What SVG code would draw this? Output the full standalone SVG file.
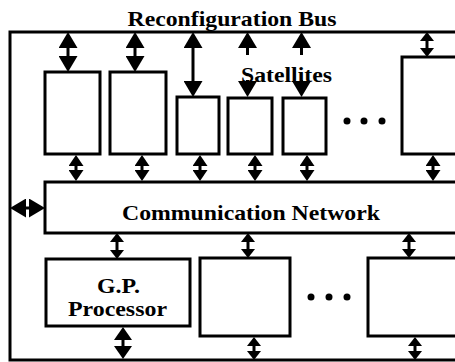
<svg xmlns="http://www.w3.org/2000/svg" width="455" height="362" viewBox="0 0 455 362">
<style>
.box{fill:#fff;stroke:#000;stroke-width:3}
.frame{fill:none;stroke:#000;stroke-width:3}
.c{stroke:#000;stroke-width:3;fill:none}
.big{marker-end:url(#ab);marker-start:url(#ab)}
.md{marker-end:url(#am);marker-start:url(#am)}
.sm{marker-end:url(#as);marker-start:url(#as)}
.xs{marker-end:url(#ax);marker-start:url(#ax)}
.t{font-family:"Liberation Serif","Times New Roman",serif;font-weight:bold;font-size:22px;fill:#000}
.dot{fill:#000}
</style>
<defs>
<marker id="ab" viewBox="0 0 16 19" refX="10" refY="9.5" markerWidth="16" markerHeight="19" markerUnits="userSpaceOnUse" orient="auto-start-reverse"><path d="M0,0 L16,9.5 L0,19 z" fill="#000"/></marker>
<marker id="am" viewBox="0 0 13 18" refX="9" refY="9" markerWidth="13" markerHeight="18" markerUnits="userSpaceOnUse" orient="auto-start-reverse"><path d="M0,0 L13,9 L0,18 z" fill="#000"/></marker>
<marker id="as" viewBox="0 0 11 15" refX="7" refY="7.5" markerWidth="11" markerHeight="15" markerUnits="userSpaceOnUse" orient="auto-start-reverse"><path d="M0,0 L11,7.5 L0,15 z" fill="#000"/></marker>
<marker id="ax" viewBox="0 0 9 14" refX="6" refY="7" markerWidth="9" markerHeight="14" markerUnits="userSpaceOnUse" orient="auto-start-reverse"><path d="M0,0 L9,7 L0,14 z" fill="#000"/></marker>
<marker id="aone" viewBox="0 0 16 19" refX="10" refY="9.5" markerWidth="16" markerHeight="19" markerUnits="userSpaceOnUse" orient="auto"><path d="M0,0 L16,9.5 L0,19 z" fill="#000"/></marker>
</defs>
<rect width="455" height="362" fill="#fff"/>
<g id="frame">
<path class="frame" d="M460,32 L10,32 L10,360 L460,360"/>
<text class="t" x="232" y="26" text-anchor="middle" textLength="209" lengthAdjust="spacingAndGlyphs">Reconfiguration Bus</text>
</g>
<g id="sat1"><rect class="box" x="45" y="72" width="55" height="82"/></g>
<g id="sat2"><rect class="box" x="110" y="72" width="56" height="82"/></g>
<g id="sat3"><rect class="box" x="177" y="97" width="42" height="57"/></g>
<g id="sat4"><rect class="box" x="228" y="98" width="44" height="56"/></g>
<g id="sat5"><rect class="box" x="283" y="98" width="43" height="56"/></g>
<g id="sat6"><rect class="box" x="402" y="57" width="60" height="97"/></g>
<g id="satdots"><circle class="dot" cx="347" cy="121" r="3.5"/><circle class="dot" cx="364" cy="121" r="3.5"/><circle class="dot" cx="382" cy="121" r="3.5"/></g>
<g id="comm"><rect class="box" x="45" y="182" width="417" height="51"/>
<text class="t" x="251" y="220" text-anchor="middle" textLength="258" lengthAdjust="spacingAndGlyphs">Communication Network</text></g>
<g id="gp"><rect class="box" x="46" y="259" width="144" height="67"/>
<text class="t" x="118.5" y="293" text-anchor="middle" textLength="43" lengthAdjust="spacingAndGlyphs">G.P.</text>
<text class="t" x="117.5" y="316" text-anchor="middle" textLength="99" lengthAdjust="spacingAndGlyphs">Processor</text></g>
<g id="proc2"><rect class="box" x="200" y="258" width="90" height="78"/></g>
<g id="proc3"><rect class="box" x="368" y="258" width="94" height="78"/></g>
<g id="procdots"><circle class="dot" cx="311" cy="297" r="3.5"/><circle class="dot" cx="329" cy="297" r="3.5"/><circle class="dot" cx="347" cy="297" r="3.5"/></g>
<g id="connectors">
<line class="c big" x1="68" y1="38" x2="68" y2="66"/>
<line class="c big" x1="135" y1="38" x2="135" y2="66"/>
<line class="c big" x1="193" y1="38" x2="193" y2="91"/>
<line class="c xs" x1="427" y1="35" x2="427" y2="54"/>
<line class="c" x1="247.5" y1="55" x2="247.5" y2="38" marker-end="url(#aone)"/>
<line class="c" x1="301.5" y1="55" x2="301.5" y2="38" marker-end="url(#aone)"/>
<line class="c" x1="247.5" y1="80" x2="247.5" y2="91" marker-end="url(#aone)"/>
<line class="c" x1="301.5" y1="80" x2="301.5" y2="91" marker-end="url(#aone)"/>
<line class="c sm" x1="76" y1="159" x2="76" y2="177"/>
<line class="c sm" x1="142" y1="159" x2="142" y2="177"/>
<line class="c sm" x1="200" y1="159" x2="200" y2="177"/>
<line class="c sm" x1="255" y1="159" x2="255" y2="177"/>
<line class="c sm" x1="307" y1="159" x2="307" y2="177"/>
<line class="c sm" x1="433" y1="159" x2="433" y2="177"/>
<line class="c big" x1="16" y1="208" x2="39" y2="208"/>
<line class="c xs" x1="117" y1="236" x2="117" y2="256"/>
<line class="c xs" x1="248" y1="236" x2="248" y2="255"/>
<line class="c xs" x1="409" y1="236" x2="409" y2="255"/>
<line class="c md" x1="123" y1="331" x2="123" y2="355"/>
<line class="c xs" x1="254" y1="340" x2="254" y2="357"/>
<line class="c xs" x1="415" y1="340" x2="415" y2="357"/>
</g>
<text class="t" x="286.5" y="82" text-anchor="middle" textLength="91" lengthAdjust="spacingAndGlyphs">Satellites</text>
</svg>
